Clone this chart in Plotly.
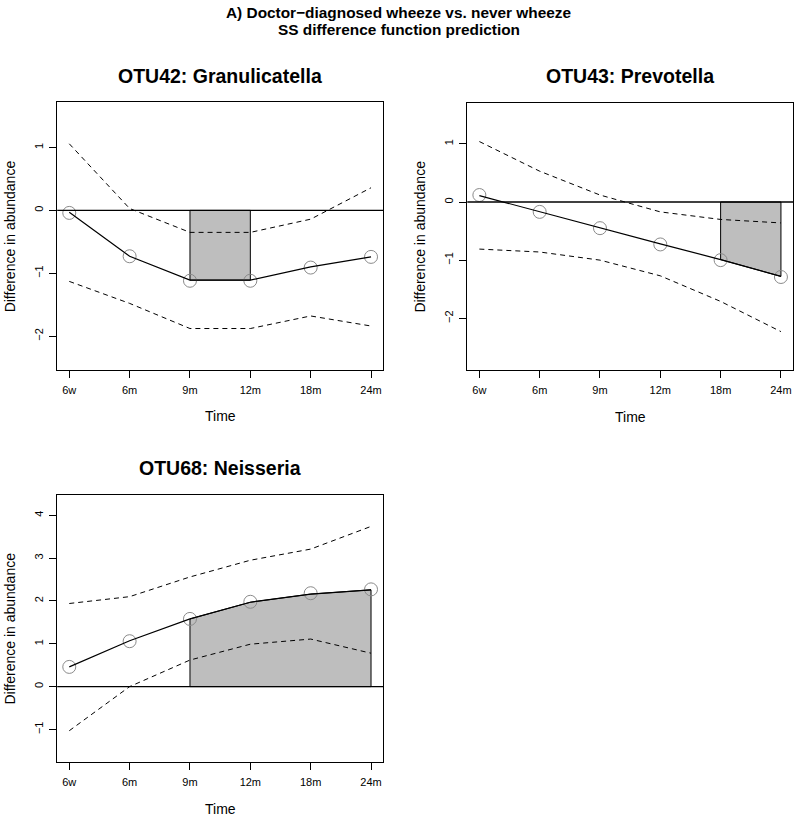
import plotly.graph_objects as go

time_labels = ["6w", "6m", "9m", "12m", "18m", "24m"]
time_pos = [1, 2, 3, 4, 5, 6]

# OTU42: Granulicatella
otu42_obs = [-0.04, -0.73, -1.12, -1.12, -0.91, -0.74]
otu42_fit = [-0.03, -0.73, -1.11, -1.11, -0.90, -0.74]
otu42_upper = [1.06, 0.03, -0.35, -0.35, -0.14, 0.36]
otu42_lower = [-1.13, -1.48, -1.88, -1.88, -1.68, -1.84]
otu42_sig = [2, 3]      # 9m .. 12m

# OTU43: Prevotella
otu43_obs = [0.12, -0.17, -0.45, -0.73, -1.00, -1.29]
otu43_fit = [0.11, -0.17, -0.45, -0.72, -0.99, -1.28]
otu43_upper = [1.04, 0.53, 0.12, -0.17, -0.30, -0.36]
otu43_lower = [-0.81, -0.86, -1.00, -1.27, -1.71, -2.23]
otu43_sig = [4, 5]      # 18m .. 24m

# OTU68: Neisseria
otu68_obs = [0.46, 1.06, 1.58, 1.98, 2.18, 2.27]
otu68_fit = [0.46, 1.07, 1.58, 1.97, 2.16, 2.26]
otu68_upper = [1.94, 2.10, 2.56, 2.95, 3.21, 3.74]
otu68_lower = [-1.03, 0.00, 0.62, 0.99, 1.11, 0.78]
otu68_sig = [2, 5]      # 9m .. 24m

W, H = 797, 819
FONT = "Liberation Sans, Arial, Helvetica, sans-serif"

panels = [
    dict(title="OTU42: Granulicatella", obs=otu42_obs, fit=otu42_fit,
         upper=otu42_upper, lower=otu42_lower, sig=otu42_sig,
         box=(57.2, 383.1, 102.3, 370.0), yrange=[-2.54, 1.72], yticks=[-2, -1, 0, 1]),
    dict(title="OTU43: Prevotella", obs=otu43_obs, fit=otu43_fit,
         upper=otu43_upper, lower=otu43_lower, sig=otu43_sig,
         box=(467.3, 793.0, 102.6, 370.0), yrange=[-2.89, 1.71], yticks=[-2, -1, 0, 1]),
    dict(title="OTU68: Neisseria", obs=otu68_obs, fit=otu68_fit,
         upper=otu68_upper, lower=otu68_lower, sig=otu68_sig,
         box=(57.2, 383.1, 494.7, 762.0), yrange=[-1.76, 4.48], yticks=[-1, 0, 1, 2, 3, 4]),
]

fig = go.Figure()
layout = dict(
    width=W, height=H,
    margin=dict(l=0, r=0, t=0, b=0),
    paper_bgcolor="white", plot_bgcolor="white",
    showlegend=False,
    font=dict(family=FONT, color="black"),
)
annotations = []
shapes = []

for i, p in enumerate(panels, start=1):
    sfx = "" if i == 1 else str(i)
    xa, ya = "x" + sfx, "y" + sfx
    left, right, top, bottom = p["box"]

    axis_common = dict(
        showgrid=False, zeroline=False,
        showline=True, mirror=True, linecolor="black", linewidth=1,
        ticks="outside", ticklen=7, tickwidth=1, tickcolor="black",
        tickfont=dict(family=FONT, size=11, color="black"),
        automargin=False, fixedrange=True,
    )
    layout["xaxis" + sfx] = dict(
        axis_common, domain=[left / W, right / W], range=[0.8, 6.2],
        tickvals=time_pos, ticktext=time_labels, anchor=ya,
        ticklabelstandoff=3,
    )
    layout["yaxis" + sfx] = dict(
        axis_common, domain=[1 - bottom / H, 1 - top / H], range=p["yrange"],
        tickvals=p["yticks"], tickangle=-90, anchor=xa,
        ticklabelstandoff=2,
    )

    # shaded significant region: between fitted curve and zero
    a, b = p["sig"]
    sx = time_pos[a:b + 1]
    sy = p["fit"][a:b + 1]
    poly_x = sx + sx[::-1] + [sx[0]]
    poly_y = sy + [0] * len(sx) + [sy[0]]
    fig.add_trace(go.Scatter(
        x=poly_x, y=poly_y, xaxis=xa, yaxis=ya, mode="lines",
        fill="toself", fillcolor="#BEBEBE",
        line=dict(color="black", width=1), hoverinfo="skip",
    ))

    # zero reference line across the panel
    shapes.append(dict(type="line", xref=xa + " domain", yref=ya,
                       x0=0, x1=1, y0=0, y1=0,
                       line=dict(color="black", width=1.3)))

    for band in (p["upper"], p["lower"]):
        fig.add_trace(go.Scatter(
            x=time_pos, y=band, xaxis=xa, yaxis=ya, mode="lines",
            line=dict(color="black", width=1, dash="5px,4px"),
        ))

    fig.add_trace(go.Scatter(
        x=time_pos, y=p["obs"], xaxis=xa, yaxis=ya, mode="markers",
        marker=dict(symbol="circle-open", size=13, color="#8a8a8a",
                    line=dict(width=1, color="#8a8a8a")),
    ))
    fig.add_trace(go.Scatter(
        x=time_pos, y=p["fit"], xaxis=xa, yaxis=ya, mode="lines",
        line=dict(color="black", width=1.2),
    ))

    # panel title
    annotations.append(dict(
        text="<b>%s</b>" % p["title"], xref="paper", yref="paper",
        x=(left + right) / 2 / W, y=1 - (top - 26.5) / H,
        xanchor="center", yanchor="middle", showarrow=False,
        font=dict(family=FONT, size=19.5, color="black"),
    ))
    # axis titles
    annotations.append(dict(
        text="Difference in abundance", xref=xa + " domain", yref=ya + " domain",
        x=0, y=0.5, xshift=-47, textangle=-90,
        xanchor="center", yanchor="middle", showarrow=False,
        font=dict(family=FONT, size=14, color="black"),
    ))
    annotations.append(dict(
        text="Time", xref=xa + " domain", yref=ya + " domain",
        x=0.5, y=0, yshift=-46.5,
        xanchor="center", yanchor="middle", showarrow=False,
        font=dict(family=FONT, size=14, color="black"),
    ))

# main title
main_title = ["A) Doctor\u2212diagnosed wheeze vs. never wheeze",
              "SS difference function prediction"]
for line, ypx in zip(main_title, [13.0, 30.0]):
    annotations.append(dict(
        text="<b>%s</b>" % line, xref="paper", yref="paper",
        x=0.5, y=1 - ypx / H, xanchor="center", yanchor="middle",
        showarrow=False, font=dict(family=FONT, size=15.4, color="black"),
    ))

layout["annotations"] = annotations
layout["shapes"] = shapes
fig.update_layout(**layout)

# the page body has a default 8px margin; drop it so the figure fills the window
fig.write_html("out.html", config={"displayModeBar": False},
               post_script="document.body.style.margin='0';")
